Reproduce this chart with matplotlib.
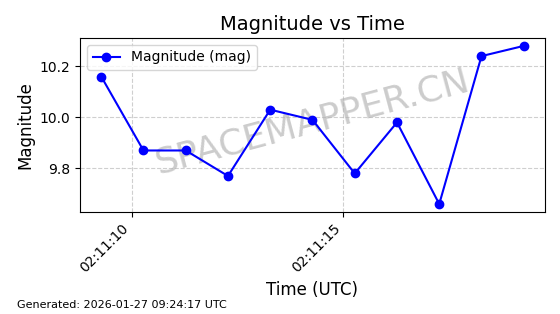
import datetime as dt
import matplotlib
matplotlib.use("Agg")
import matplotlib.pyplot as plt
import matplotlib.dates as mdates

t0 = dt.datetime(2026, 1, 27, 2, 11, 9, 280000)
times = [t0 + dt.timedelta(seconds=k) for k in range(11)]
mags = [10.16, 9.87, 9.87, 9.77, 10.03, 9.99, 9.78, 9.98, 9.66, 10.24, 10.28]

fig, ax = plt.subplots(figsize=(5.6, 3.14), dpi=100)
ax.plot(times, mags, color="blue", marker="o", markersize=6, linewidth=1.5,
        label="Magnitude (mag)")

ax.set_title("Magnitude vs Time", fontsize=14)
ax.set_xlabel("Time (UTC)", fontsize=12)
ax.set_ylabel("Magnitude", fontsize=12)
ax.grid(True, linestyle="--", alpha=0.6)
ax.legend(loc="upper left")

ax.xaxis.set_major_locator(mdates.SecondLocator(bysecond=range(0, 60, 5)))
ax.xaxis.set_major_formatter(mdates.DateFormatter("%H:%M:%S"))
plt.setp(ax.get_xticklabels(), rotation=45, ha="right")

ax.text(0.5, 0.52, "SPACEMAPPER.CN", transform=ax.transAxes, fontsize=26,
        color="gray", alpha=0.4, rotation=15, ha="center", va="center", zorder=0)

fig.subplots_adjust(left=0.143, right=0.973, top=0.879, bottom=0.325)
fig.text(0.03, 0.02, "Generated: 2026-01-27 09:24:17 UTC", fontsize=8)

plt.savefig("out.png", dpi=100)
